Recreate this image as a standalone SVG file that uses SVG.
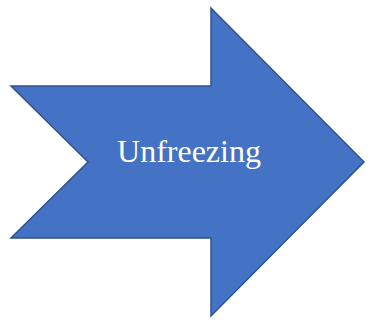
<svg xmlns="http://www.w3.org/2000/svg" width="368" height="328" viewBox="0 0 368 328">
<style>
.shape{fill:#4472C4;stroke:#2F528F;stroke-width:1.5;stroke-linejoin:miter}
.lbl{font-family:"Liberation Serif","Times New Roman",serif;font-size:32px;fill:#FFFFFF;text-anchor:middle}
</style>
<rect width="368" height="328" fill="#FFFFFF"/>
<g id="unfreezing">
<polygon class="shape" points="11,86 211,86 211,8 364,162 211,316 211,238 11,238 88,162"/>
<text class="lbl" x="189" y="162">Unfreezing</text>
</g>
</svg>
